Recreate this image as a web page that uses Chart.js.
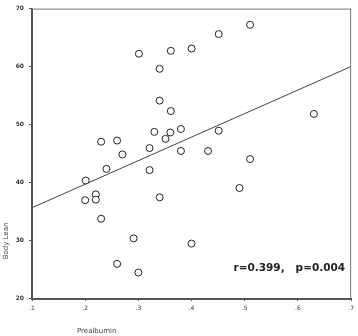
<!DOCTYPE html>
<html>
<head>
<meta charset="utf-8">
<script src="https://cdn.jsdelivr.net/npm/chart.js@4"></script>
<style>
  html, body { margin: 0; padding: 0; background: #fff; }
  .chart-container { position: relative; width: 358px; height: 336px; }
</style>
</head>
<body>
<div class="chart-container"><canvas id="scatterChart" width="358" height="336"></canvas></div>
<script>
// Prealbumin (x) vs Body Lean (y)
const prealbumin = [0.301, 0.340, 0.361, 0.400, 0.451, 0.510, 0.340, 0.361, 0.630,
    0.330, 0.360, 0.351, 0.380, 0.451, 0.230, 0.260, 0.270, 0.321, 0.380, 0.431,
    0.510, 0.240, 0.321, 0.201, 0.220, 0.220, 0.200, 0.340, 0.490, 0.230, 0.291,
    0.400, 0.260, 0.300];
const bodyLean = [62.2, 59.6, 62.7, 63.1, 65.6, 67.2, 54.1, 52.3, 51.8,
    48.7, 48.6, 47.5, 49.2, 48.9, 47.0, 47.2, 44.8, 45.9, 45.4, 45.4,
    44.0, 42.3, 42.1, 40.3, 37.9, 37.0, 36.9, 37.4, 39.0, 33.7, 30.3,
    29.4, 25.9, 24.4];
// fitted regression line end points
const fitX = [0.1, 0.7];
const fitY = [35.6, 60.0];
const xTicks = [0.1, 0.2, 0.3, 0.4, 0.5, 0.6, 0.7];
const yTicks = [20, 30, 40, 50, 60, 70];
const statsText = 'r=0.399,   p=0.004';

document.addEventListener('DOMContentLoaded', () => {
    const framePlugin = {
        id: 'frame',
        afterDraw(chart) {
            const c = chart.ctx;
            const a = chart.chartArea;
            c.save();
            c.strokeStyle = '#777';
            c.lineWidth = 1;
            c.strokeRect(a.left + 0.5, a.top + 0.5, a.right - a.left - 1, a.bottom - a.top);
            c.strokeStyle = '#555';
            c.lineWidth = 2;
            c.beginPath();
            c.moveTo(a.left, a.top);
            c.lineTo(a.left, a.bottom + 1);
            c.lineTo(a.right, a.bottom + 1);
            c.stroke();

            c.fillStyle = '#222';
            c.font = 'bold 10.5px "DejaVu Sans"';
            c.textAlign = 'right';
            c.textBaseline = 'middle';
            c.fillText(statsText, a.right - 6, 268);

            c.font = '7px "DejaVu Sans"';
            c.fillStyle = '#444';
            c.textAlign = 'left';
            c.fillText('Prealbumin', 77, 331);
            c.translate(6, 241);
            c.rotate(-Math.PI / 2);
            c.textAlign = 'center';
            c.fillText('Body Lean', 0, 0);
            c.restore();
        }
    };

    const ctx = document.getElementById('scatterChart').getContext('2d');
    new Chart(ctx, {
        type: 'scatter',
        data: {
            datasets: [{
                data: prealbumin.map((x, i) => ({ x: x, y: bodyLean[i] })),
                pointStyle: 'circle',
                pointRadius: 3.5,
                pointHoverRadius: 3.5,
                borderWidth: 1,
                borderColor: '#222',
                backgroundColor: '#fff'
            }, {
                type: 'line',
                data: fitX.map((x, i) => ({ x: x, y: fitY[i] })),
                borderColor: '#444',
                borderWidth: 1,
                pointRadius: 0,
                fill: false
            }]
        },
        options: {
            responsive: false,
            animation: false,
            layout: { padding: { left: 0, right: 4, top: 3, bottom: 0 } },
            plugins: { legend: { display: false }, tooltip: { enabled: false } },
            scales: {
                x: {
                    type: 'linear',
                    min: 0.1,
                    max: 0.7,
                    afterBuildTicks: (s) => { s.ticks = xTicks.map(v => ({ value: v })); },
                    afterFit: (s) => { s.height = 38; },
                    grid: { drawOnChartArea: false, tickLength: 3, color: '#555' },
                    border: { display: false },
                    ticks: {
                        color: '#333',
                        font: { size: 6, family: 'DejaVu Sans' },
                        padding: 4,
                        maxRotation: 0,
                        callback: (v) => v.toFixed(1).replace(/^0/, '')
                    }
                },
                y: {
                    min: 20,
                    max: 70,
                    afterBuildTicks: (s) => { s.ticks = yTicks.map(v => ({ value: v })); },
                    afterFit: (s) => { s.width = 32; },
                    grid: { drawOnChartArea: false, tickLength: 3, color: '#555' },
                    border: { display: false },
                    ticks: {
                        color: '#333',
                        font: { size: 6, family: 'DejaVu Sans', weight: 'bold' },
                        padding: 5
                    }
                }
            }
        },
        plugins: [framePlugin]
    });
});
</script>
</body>
</html>
